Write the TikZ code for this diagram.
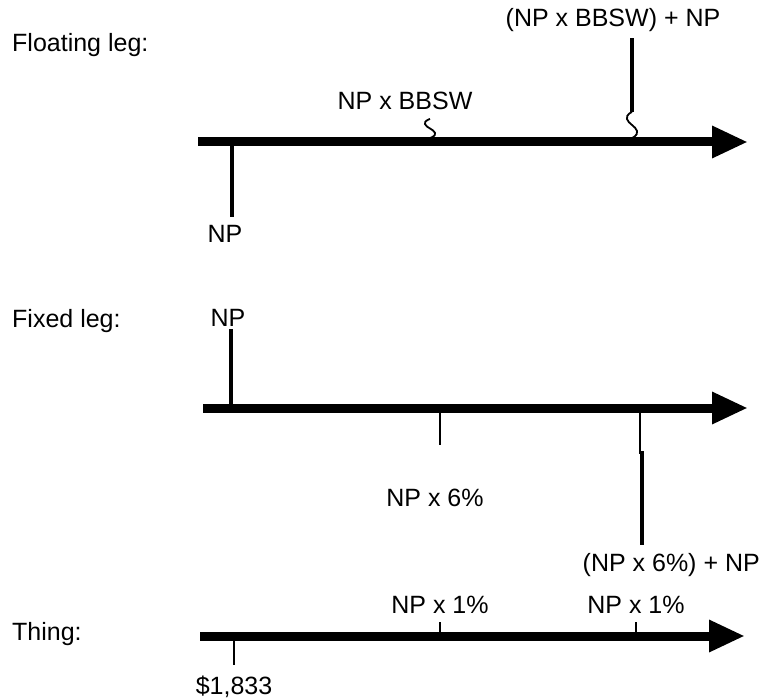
\documentclass[tikz,border=0pt]{standalone}
\usepackage{fontspec}
\setmainfont{Liberation Sans}
\usetikzlibrary{arrows.meta,positioning,calc}
% small S-shaped mark rising from the time line at x = #1 up to y = #2
\newcommand{\squiggle}[2]{%
    plot[smooth, tension=0.9] coordinates {(#1,138) ({#1+5},{138-(138-#2)*0.27}) ({#1-5},{138-(138-#2)*0.73}) (#1,#2)}}

\begin{document}
\begin{tikzpicture}[
    x=1pt, y=-1pt,
    every node/.style={font=\fontsize{25}{29}\selectfont, inner sep=0pt},
    legLabel/.style={anchor=base west},
    cashLabel/.style={anchor=base},
    timeline/.style={line width=9pt, -{Triangle[length=36pt,width=30pt]}},
    flowBold/.style={line width=4pt},
    flowThin/.style={line width=2.6pt},
    wavy/.style={line width=1.8pt}
]
    \useasboundingbox (0,0) rectangle (760,700);

    % floating leg
    \node[legLabel] (floatLeg) at (12,52) {Floating leg:};
    \coordinate (floatStart) at (198,142);
    \coordinate (floatEnd) at (748,142);
    \draw[timeline] (floatStart) -- (floatEnd);
    \coordinate (floatT0) at (232,142);
    \coordinate (floatTop) at (632,112);
    \node[cashLabel] (floatNP) at (225,243) {NP};
    \node[cashLabel] (floatCoupon) at (405,110) {NP x BBSW};
    \node[cashLabel] (floatFinal) at (613,27) {(NP x BBSW) + NP};
    \draw[flowBold] (floatT0) -- ([yshift=9pt]floatT0 |- floatNP.north);
    \draw[wavy] \squiggle{430}{119};
    \draw[wavy] \squiggle{632}{112};
    \draw[flowBold] (floatTop) -- ([yshift=-6pt]floatTop |- floatFinal.south);

    % fixed leg
    \node[legLabel] (fixedLeg) at (12,328) {Fixed leg:};
    \coordinate (fixedStart) at (203,408);
    \coordinate (fixedEnd) at (748,408);
    \draw[timeline] (fixedStart) -- (fixedEnd);
    \coordinate (fixedT0) at (231,408);
    \coordinate (fixedT1) at (440,408);
    \coordinate (fixedT2) at (640,408);
    \coordinate (fixedStep) at (640,454);
    \node[cashLabel] (fixedNP) at (228,327) {NP};
    \node[cashLabel] (fixedCoupon) at (435,506) {NP x 6\%};
    \node[anchor=base east] (fixedFinal) at (760,571) {(NP x 6\%) + NP};
    \draw[flowBold] (fixedT0) -- ([yshift=-2pt]fixedT0 |- fixedNP.south);
    \draw[flowThin] (fixedT1) -- ++(0,37);
    \draw[flowThin] (fixedT2) -- (fixedStep);
    \draw[flowBold] ([xshift=2pt,yshift=3pt]fixedStep) -- ([xshift=2pt]fixedStep |- 0,545);

    % thing
    \node[legLabel] (thingLeg) at (12,640) {Thing:};
    \coordinate (thingStart) at (200,636);
    \coordinate (thingEnd) at (745,636);
    \draw[timeline] (thingStart) -- (thingEnd);
    \coordinate (thingT0) at (234,636);
    \coordinate (thingT1) at (440,636);
    \coordinate (thingT2) at (636,636);
    \node[cashLabel] (thingCash) at (234,694) {\$1,833};
    \node[cashLabel] (thingCouponA) at (440,613) {NP x 1\%};
    \node[cashLabel] (thingCouponB) at (636,613) {NP x 1\%};
    \draw[flowThin] (thingT0) -- ++(0,29);
    \draw[flowThin] (thingT1) -- ++(0,-14);
    \draw[flowThin] (thingT2) -- ++(0,-14);
\end{tikzpicture}
\end{document}
